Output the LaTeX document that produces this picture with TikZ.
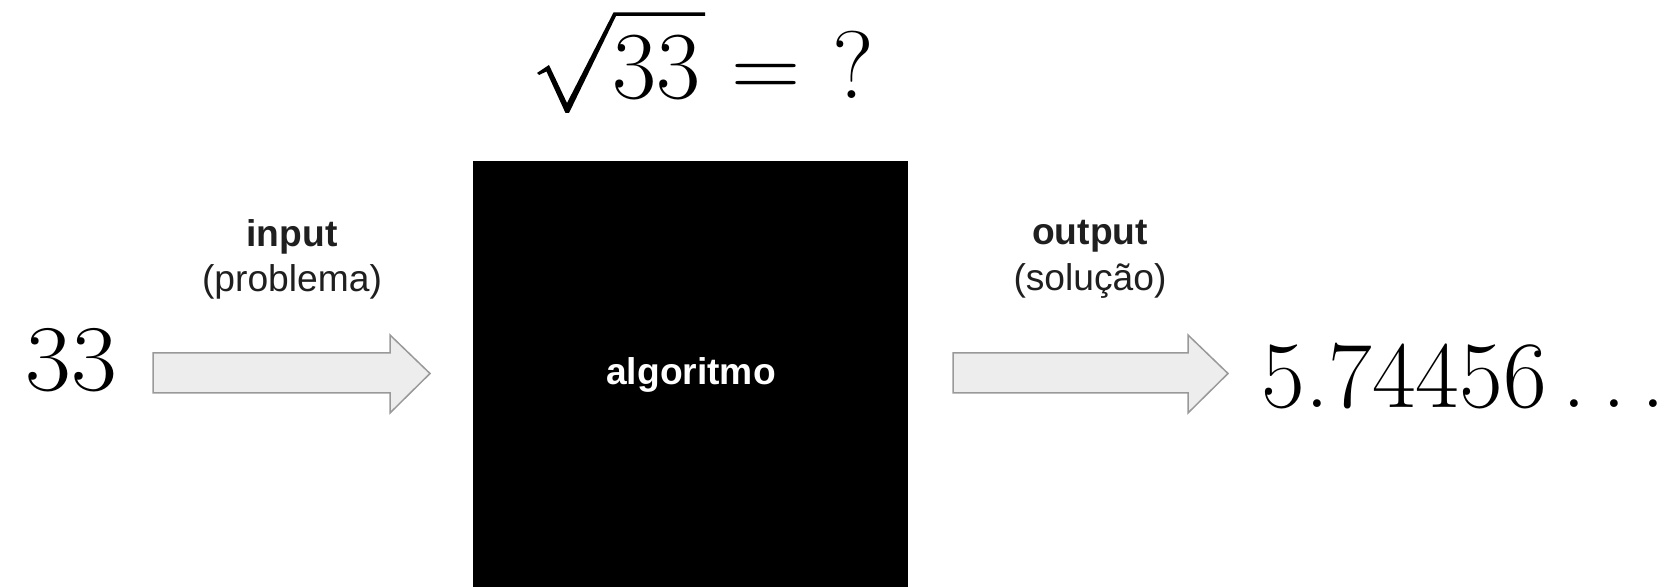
\documentclass[tikz,border=0pt]{standalone}
\usepackage{fontspec}
\setsansfont{Liberation Sans}
\begin{document}
\begin{tikzpicture}[x=0.5pt,y=-0.5pt,
  sanslbl/.style={font=\sffamily\fontsize{18.6}{22}\selectfont, text=black!88, inner sep=0pt, anchor=base},
  sansbold/.style={sanslbl, font=\sffamily\bfseries\fontsize{18.6}{22}\selectfont},
  bignum/.style={font=\rmfamily\fontsize{47}{56}\selectfont, inner sep=0pt, anchor=base west},
  blockarrow/.style={fill=black!7, draw=black!40, line width=0.75pt, line join=miter}
]
\useasboundingbox (0,0) rectangle (1666,587);
% black box
\fill[black] (473,161) rectangle (908,587);
\node[font=\sffamily\bfseries\fontsize{18.6}{22}\selectfont, text=white, inner sep=0pt, anchor=base] (alg) at (691,385) {algoritmo};
% equation sqrt(33) = ?
\fill[black] (537,73) -- (549,65) -- (567,103) -- (613.5,12.5) -- (705,12.5) -- (705,16) -- (616,16) -- (569,113) -- (565.5,113) -- (546.5,71.5) -- (539,75) -- cycle;
\node[bignum, font=\rmfamily\fontsize{48}{56}\selectfont] (eq33) at (612,99) {33};
\node[bignum, font=\rmfamily\fontsize{48}{56}\selectfont] (eqsign) at (731,99) {=};
\node[bignum, font=\rmfamily\fontsize{48}{56}\selectfont] (eqq) at (832,99) {?};
% input side
\node[bignum] (in) at (25,391) {\scalebox{1.06}[1]{33}};
\node[sansbold] (inlbl) at (292,247) {input};
\node[sanslbl] (insub) at (292,292) {(problema)};
\path[blockarrow] (153,353) -- (390,353) -- (390,335) -- (430,373.5) -- (390,413) -- (390,393) -- (153,393) -- cycle;
% output side
\node[sansbold] (outlbl) at (1090,245) {output};
\node[sanslbl] (outsub) at (1090,291) {(solução)};
\path[blockarrow] (953,353) -- (1188,353) -- (1188,335) -- (1228,373.5) -- (1188,413) -- (1188,393) -- (953,393) -- cycle;
\node[bignum, font=\rmfamily\fontsize{47.5}{56}\selectfont] (out) at (1261,408) {5.74456\kern0.167em.\kern0.167em.\kern0.167em.};
\end{tikzpicture}
\end{document}
